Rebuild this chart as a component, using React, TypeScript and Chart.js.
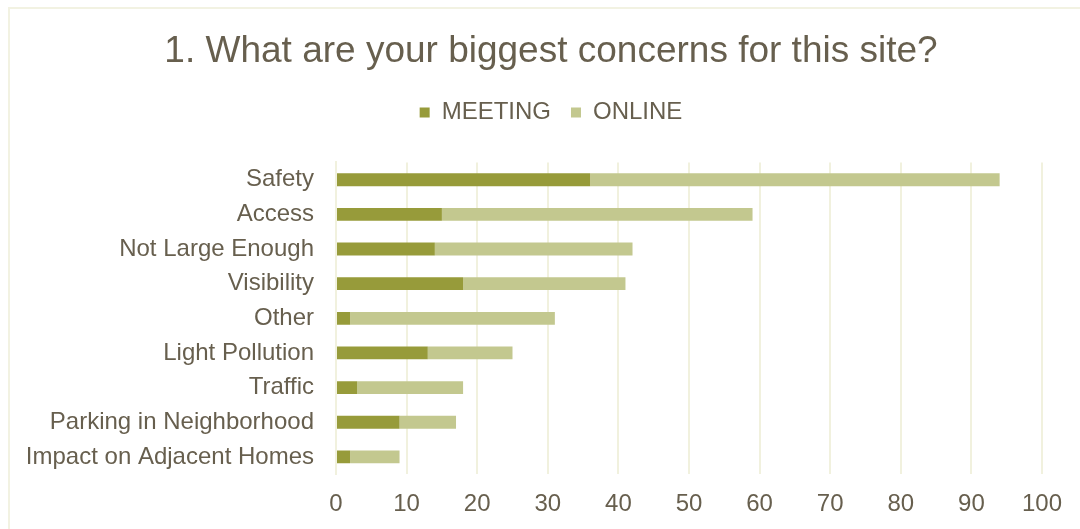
import React, { useEffect, useRef } from "react";
import { Chart, registerables } from "chart.js";

Chart.register(...registerables);

const title = "1. What are your biggest concerns for this site?";
const categories = [
  "Safety",
  "Access",
  "Not Large Enough",
  "Visibility",
  "Other",
  "Light Pollution",
  "Traffic",
  "Parking in Neighborhood",
  "Impact on Adjacent Homes",
];
const seriesNames = ["MEETING", "ONLINE"];
const meetingValues = [36, 15, 14, 18, 2, 13, 3, 9, 2];
const onlineValues = [58, 44, 28, 23, 29, 12, 15, 8, 7];
const xTickValues = [0, 10, 20, 30, 40, 50, 60, 70, 80, 90, 100];

const TEXT = "#675f4e";
const FONT = "'Liberation Sans', Arial, sans-serif";
const GRID = "#f1f1de";

export default function App() {
  const ref = useRef<HTMLCanvasElement | null>(null);

  useEffect(() => {
    const canvas = ref.current;
    if (!canvas) return;
    const legendSpace = {
      id: "legendSpace",
      beforeInit(chart: any) {
        const lg = chart.legend;
        if (!lg) return;
        const orig = lg.fit.bind(lg);
        lg.fit = function () {
          orig();
          this.height += 28;
        };
      },
      afterLayout(chart: any) {
        // centre the heading block on the whole chart frame
        if (chart.titleBlock) chart.titleBlock.left = 50;
        if (chart.legend) chart.legend.left = 50;
      },
    };
    const chart = new Chart(canvas, {
      type: "bar",
      data: {
        labels: categories,
        datasets: [
          {
            label: seriesNames[0],
            data: meetingValues,
            backgroundColor: "#979b3a",
            borderWidth: 0,
            categoryPercentage: 1,
            barPercentage: 0.37,
          },
          {
            label: seriesNames[1],
            data: onlineValues,
            backgroundColor: "#c3c88f",
            borderWidth: 0,
            categoryPercentage: 1,
            barPercentage: 0.37,
          },
        ],
      },
      options: {
        indexAxis: "y",
        responsive: false,
        animation: false,
        devicePixelRatio: 1,
        layout: { padding: { left: 0, right: 38, top: 0, bottom: -6 } },
        plugins: {
          title: {
            display: true,
            text: title,
            color: TEXT,
            font: { family: FONT, size: 37, weight: "normal" },
            padding: { top: 21, bottom: 6 },
          },
          legend: {
            display: true,
            position: "top",
            labels: {
              color: TEXT,
              font: { family: FONT, size: 24 },
              boxWidth: 10,
              boxHeight: 10,
              padding: 20,
            },
          },
          tooltip: { enabled: false },
        },
        scales: {
          x: {
            stacked: true,
            min: 0,
            max: 100,
            afterBuildTicks: (scale: any) => {
              scale.ticks = xTickValues.map((v) => ({ value: v }));
            },
            grid: { color: GRID, lineWidth: 2, drawTicks: false },
            border: { display: false },
            ticks: {
              color: TEXT,
              font: { family: FONT, size: 24 },
              padding: 16,
              maxRotation: 0,
            },
          },
          y: {
            stacked: true,
            afterFit: (scale: any) => {
              scale.width = 326;
            },
            grid: { display: false, drawTicks: false },
            border: { display: true, color: GRID, width: 2 },
            ticks: {
              color: TEXT,
              font: { family: FONT, size: 24 },
              padding: 22,
              autoSkip: false,
            },
          },
        },
      },
      plugins: [legendSpace],
    });
    return () => chart.destroy();
  }, []);

  return (
    <div
      style={{
        position: "fixed",
        left: 8,
        top: 7,
        width: 1072,
        height: 522,
        borderTop: "2px solid #f2f2e2",
        borderLeft: "2px solid #f2f2e2",
        boxSizing: "border-box",
        background: "#ffffff",
      }}
    >
      <canvas ref={ref} width={1070} height={520} style={{ display: "block" }} />
    </div>
  );
}
